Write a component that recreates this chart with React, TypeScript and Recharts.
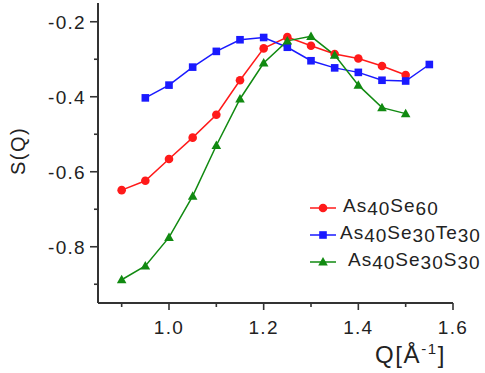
import { Legend, Line, LineChart, XAxis, YAxis } from "recharts"

const qValues = [0.9, 0.95, 1.0, 1.05, 1.1, 1.15, 1.2, 1.25, 1.3, 1.35, 1.4, 1.45, 1.5, 1.55]
const as40se60 = [-0.649, -0.624, -0.566, -0.509, -0.448, -0.356, -0.271, -0.241, -0.264, -0.286, -0.298, -0.318, -0.342, null]
const as40se30te30 = [null, -0.403, -0.369, -0.321, -0.279, -0.248, -0.242, -0.268, -0.304, -0.323, -0.335, -0.356, -0.358, -0.314]
const as40se30s30 = [-0.888, -0.851, -0.775, -0.665, -0.53, -0.406, -0.31, -0.251, -0.239, -0.289, -0.369, -0.429, -0.445, null]

const xTicks = [0.9, 1.0, 1.1, 1.2, 1.3, 1.4, 1.5, 1.6]
const yTicks = [-0.9, -0.8, -0.7, -0.6, -0.5, -0.4, -0.3, -0.2]

const data = qValues.map((q, i) => ({
  q,
  se60: as40se60[i],
  te30: as40se30te30[i],
  s30: as40se30s30[i],
}))

const FONT = "'Liberation Sans', Arial, sans-serif"
const AXIS = "#333"

// legend label pieces: [text, lowered?]
const series = [
  { key: "se60", color: "#ff1a1a", shape: "circle", parts: [["As", 0], ["40", 1], ["Se", 0], ["60", 1]], textX: 38 },
  { key: "te30", color: "#1a1aff", shape: "square", parts: [["As", 0], ["40", 1], ["Se", 0], ["30", 1], ["Te", 0], ["30", 1]], textX: 35 },
  { key: "s30", color: "#118a11", shape: "triangle", parts: [["As", 0], ["40", 1], ["Se", 0], ["30", 1], ["S", 0], ["30", 1]], textX: 43 },
]

function Marker({ shape, color, cx, cy }: { shape: string; color: string; cx: number; cy: number }) {
  if (shape === "circle") return <circle cx={cx} cy={cy} r={4.3} fill={color} />
  if (shape === "square") return <rect x={cx - 3.8} y={cy - 3.8} width={7.6} height={7.6} fill={color} />
  return <polygon points={`${cx},${cy - 5} ${cx + 4.8},${cy + 3.5} ${cx - 4.8},${cy + 3.5}`} fill={color} />
}

const makeDot = (shape: string, color: string) => (props: any) => {
  const { cx, cy, index } = props
  if (cx == null || cy == null || props.value == null) return <g key={`d${index}`} />
  return (
    <g key={`d${index}`}>
      <Marker shape={shape} color={color} cx={cx} cy={cy} />
    </g>
  )
}

function XTick({ x, y, payload }: any) {
  const v = payload.value
  const major = Math.round(v * 10) % 2 === 0
  return (
    <g>
      <line x1={x} y1={y} x2={x} y2={y + (major ? 7 : 4)} stroke={AXIS} strokeWidth={1.6} />
      {major && (
        <text x={x} y={y + 31} textAnchor="middle" fontSize={19} letterSpacing={1.3} fill="#222" fontFamily={FONT}>
          {v.toFixed(1)}
        </text>
      )}
    </g>
  )
}

function YTick({ x, y, payload }: any) {
  const v = payload.value
  const major = Math.round(v * 10) % 2 === 0
  return (
    <g>
      <line x1={x - (major ? 8 : 4)} y1={y} x2={x} y2={y} stroke={AXIS} strokeWidth={1.6} />
      {major && (
        <text x={x - 12} y={y + 7} textAnchor="end" fontSize={19} letterSpacing={1.3} fill="#222" fontFamily={FONT}>
          {v.toFixed(1)}
        </text>
      )}
    </g>
  )
}

function LegendBox() {
  return (
    <svg width={180} height={90}>
      {series.map((s, i) => {
        const cy = 18 + i * 27
        return (
          <g key={s.key}>
            <line x1={5} y1={cy} x2={31} y2={cy} stroke={s.color} strokeWidth={1.5} />
            <Marker shape={s.shape} color={s.color} cx={18} cy={cy} />
            <text x={s.textX} y={cy + 4} fontSize={19} letterSpacing={1} fill="#222" fontFamily={FONT}>
              {s.parts.map(([t, low], j) => (
                <tspan key={j} dy={j === 0 ? (low ? 3 : 0) : low ? 3 : -3}>
                  {t}
                </tspan>
              ))}
            </text>
          </g>
        )
      })}
    </svg>
  )
}

export default function App() {
  return (
    <div style={{ position: "absolute", left: 0, top: 0, width: 485, height: 373, background: "#fff" }}>
      <LineChart width={485} height={373} data={data} margin={{ top: 3, right: 32, bottom: 0, left: 0 }}>
        <XAxis
          type="number"
          dataKey="q"
          domain={[0.85, 1.6]}
          ticks={xTicks}
          interval={0}
          height={70}
          tickSize={0}
          tickMargin={0}
          tickLine={false}
          axisLine={{ stroke: AXIS, strokeWidth: 2 }}
          tick={<XTick />}
          label={(props: any) => {
            const vb = props.viewBox
            return (
              <text x={375} y={vb.y + 60} fontSize={24} letterSpacing={1.6} fill="#222" fontFamily={FONT}>
                Q[Å
                <tspan fontSize={15} dy={-9}>-1</tspan>
                <tspan dy={9}>]</tspan>
              </text>
            )
          }}
        />
        <YAxis
          type="number"
          domain={[-0.95, -0.15]}
          ticks={yTicks}
          interval={0}
          width={98}
          tickSize={0}
          tickMargin={0}
          tickLine={false}
          allowDataOverflow
          axisLine={{ stroke: AXIS, strokeWidth: 2 }}
          tick={<YTick />}
          label={() => (
            <text
              x={18}
              y={151}
              transform="rotate(-90 18 151)"
              textAnchor="middle"
              dominantBaseline="central"
              fontSize={20}
              letterSpacing={1.5}
              fill="#222"
              fontFamily={FONT}
            >
              S(Q)
            </text>
          )}
        />
        <Legend
          layout="vertical"
          align="center"
          verticalAlign="middle"
          wrapperStyle={{ left: 305, top: 190, width: 180, height: 90 }}
          content={() => <LegendBox />}
        />
        {series.map((s) => (
          <Line
            key={s.key}
            type="linear"
            dataKey={s.key}
            stroke={s.color}
            strokeWidth={1.5}
            dot={makeDot(s.shape, s.color)}
            activeDot={false}
            isAnimationActive={false}
          />
        ))}
      </LineChart>
    </div>
  )
}
